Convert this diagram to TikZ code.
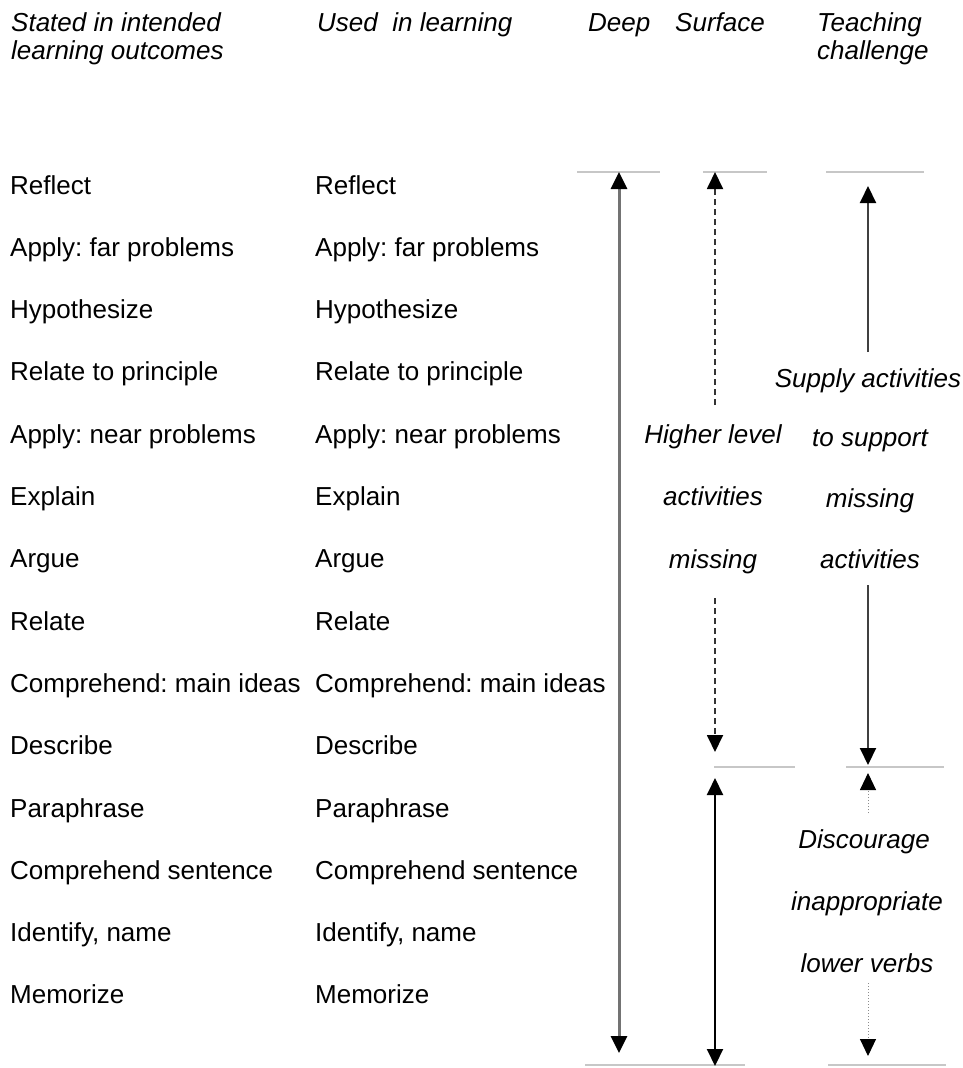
\documentclass[tikz,border=0pt]{standalone}
\usepackage{fontspec}
\setmainfont{Liberation Sans}
\usetikzlibrary{arrows.meta,positioning}
\frenchspacing

\begin{document}
\begin{tikzpicture}[
  x=1pt, y=-1pt,
  verb/.style={font=\fontsize{26}{30}\selectfont, anchor=base west, inner sep=0pt},
  hdr/.style={font=\fontsize{26}{28}\selectfont\itshape, anchor=base west, align=left, inner sep=0pt},
  note/.style={font=\fontsize{26}{30}\selectfont\itshape, anchor=base, inner sep=0pt},
  level/.style={draw=black!22, line width=1.5pt},
  tip/.tip={Triangle[width=16pt,length=17pt,color=black]},
  deep/.style={draw=black!55, line width=3pt, tip-tip},
  surf/.style={draw=black, line width=2pt, tip-tip},
  gap/.style={draw=black!80, line width=1.8pt, dash pattern=on 6pt off 4pt, -tip},
  teach/.style={draw=black!75, line width=2pt, -tip},
  weak/.style={draw=black!45, line width=1pt, dotted, -tip}
]
  \useasboundingbox (0,0) rectangle (962,1068);

  % column heads
  \node[hdr] (hs) at (11,59) {Stated in intended\\learning outcomes};
  \node[hdr] (hu) at (317,31) {Used\ \ in learning};
  \node[hdr] (hd) at (588,31) {Deep};
  \node[hdr] (hf) at (675,31) {Surface};
  \node[hdr] (ht) at (817,59) {Teaching\\challenge};

  \foreach \i/\name in {
    0/Reflect, 1/Apply: far problems, 2/Hypothesize,
    3/Relate to principle, 4/Apply: near problems, 5/Explain,
    6/Argue, 7/Relate, 8/Comprehend: main ideas, 9/Describe,
    10/Paraphrase, 11/Comprehend sentence, 12/{Identify, name},
    13/Memorize} {
    \node[verb] (s\i) at (10,194+62.3*\i) {\name};
    \node[verb] (u\i) at (315,194+62.3*\i) {\name};
  }

  % level marks
  \draw[level] (577,172) -- (660,172);
  \draw[level] (703,172) -- (767,172);
  \draw[level] (826,172) -- (924,172);
  \draw[level] (714,767) -- (795,767);
  \draw[level] (846,767) -- (944,767);
  \draw[level] (585,1065) -- (745,1065);
  \draw[level] (828,1065) -- (946,1065);

  % notes
  \node[note] (hl1) at (713,443) {Higher level};
  \node[note] (hl2) at (713,505) {activities};
  \node[note] (hl3) at (713,568) {missing};
  \node[note] (sa1) at (868,387) {Supply activities};
  \node[note] (sa2) at (870,446) {to support};
  \node[note] (sa3) at (870,507) {missing};
  \node[note] (sa4) at (870,568) {activities};
  \node[note] (di1) at (864,848) {Discourage};
  \node[note] (di2) at (867,910) {inappropriate};
  \node[note] (di3) at (867,972) {lower verbs};

  \coordinate (dtop) at (619,172);
  \coordinate (dbot) at (619,1053);
  \coordinate (ftop) at (715,172);
  \coordinate (fa) at (715,405);
  \coordinate (fb) at (715,598);
  \coordinate (fmid) at (715,752);
  \coordinate (flow) at (715,778);
  \coordinate (fbot) at (715,1066);
  \coordinate (ttop) at (868,186);
  \coordinate (ta) at (868,352);
  \coordinate (tb) at (868,585);
  \coordinate (tmid) at (868,765);
  \coordinate (tlow) at (868,773);
  \coordinate (tc) at (868,813);
  \coordinate (td) at (868,983);
  \coordinate (tbot) at (868,1056);

  \draw[deep] (dtop) -- (dbot);
  \draw[gap] (fa) -- (ftop);
  \draw[gap] (fb) -- (fmid);
  \draw[surf] (flow) -- (fbot);
  \draw[teach] (ta) -- (ttop);
  \draw[teach] (tb) -- (tmid);
  \draw[weak] (tc) -- (tlow);
  \draw[weak] (td) -- (tbot);
\end{tikzpicture}
\end{document}
